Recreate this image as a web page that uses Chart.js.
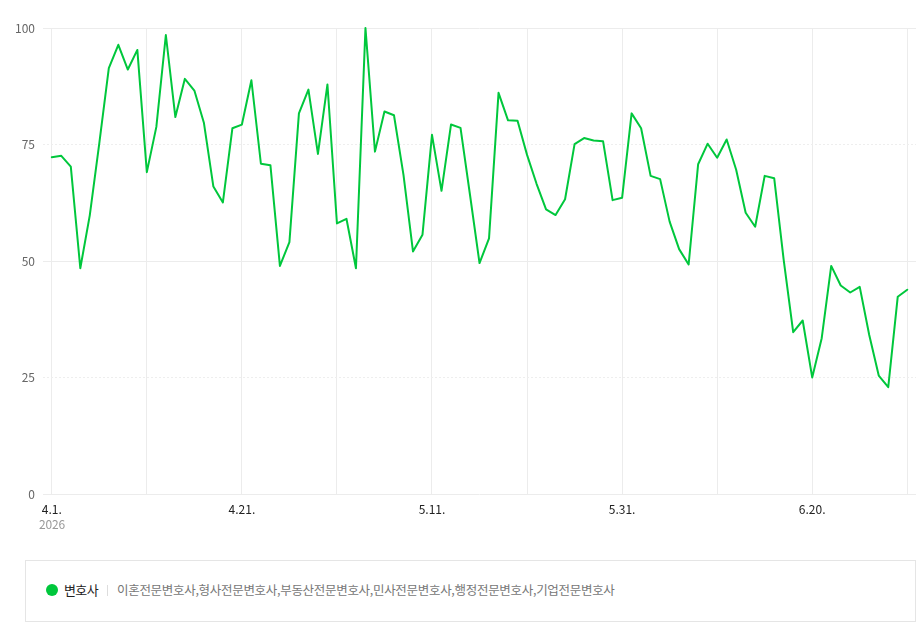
<!DOCTYPE html>
<html lang="ko">
<head>
<meta charset="utf-8">
<script src="https://cdn.jsdelivr.net/npm/chart.js@4"></script>
<style>
html,body{margin:0;padding:0;background:#fff;width:922px;height:629px;overflow:hidden;font-family:"Noto Sans CJK KR","Noto Sans",sans-serif}
#wrap{position:absolute;left:0;top:0;width:922px;height:545px}
canvas{display:block}
#year{position:absolute;left:39px;top:516px;font-size:12px;line-height:16px;color:#999;letter-spacing:-.2px}
#legend{position:absolute;left:25px;top:560px;width:889px;height:60px;border:1px solid #e5e5e5;box-sizing:content-box}
#dot{position:absolute;left:20px;top:23px;width:12px;height:12px;border-radius:50%;background:#00c73c}
#name{position:absolute;left:38px;top:20px;font-size:13px;line-height:18px;color:#222;letter-spacing:-.6px;white-space:nowrap}
#sep{position:absolute;left:81px;top:24px;width:1px;height:11px;background:#ddd}
#keys{position:absolute;left:91px;top:20px;font-size:12.5px;line-height:18px;color:#777;letter-spacing:-.3px;white-space:nowrap}
</style>
</head>
<body>
<div id="wrap"><canvas id="c" width="922" height="545"></canvas></div>
<div id="year"></div>
<div id="legend"><span id="dot"></span><span id="name"></span><span id="sep"></span><span id="keys"></span></div>
<script>
const values = [72.3,72.6,70.3,48.5,59.9,75.3,91.4,96.4,91.1,95.3,
69.1,78.8,98.5,80.9,89.1,86.6,79.7,66.0,62.6,78.5,
79.3,88.8,70.9,70.6,49.0,54.1,81.7,86.8,73.0,87.9,
58.1,59.1,48.5,100,73.5,82.1,81.3,68.5,52.1,55.7,
77.1,65.1,79.3,78.6,64.2,49.6,54.9,86.1,80.2,80.1,
72.8,66.6,61.1,59.9,63.3,75.1,76.4,75.9,75.7,63.1,
63.6,81.7,78.5,68.3,67.6,58.5,52.6,49.3,70.8,75.2,
72.2,76.1,69.6,60.4,57.4,68.3,67.8,50.3,34.8,37.3,
25.1,33.5,49.0,44.8,43.3,44.5,34.2,25.5,23.0,42.4,43.9];
const dayIndex = values.map((v, i) => i);
const gridDays = [0,10,20,30,40,50,60,70,80,90];
const xTickLabels = ['4.1.','','4.21.','','5.11.','','5.31.','','6.20.',''];
const yTicks = [0,25,50,75,100];
const dottedY = [25,75];
const yearLabel = '2026';
const seriesName = '변호사';
const keywords = '이혼전문변호사,형사전문변호사,부동산전문변호사,민사전문변호사,행정전문변호사,기업전문변호사';

document.getElementById('year').textContent = yearLabel;
document.getElementById('name').textContent = seriesName;
document.getElementById('keys').textContent = keywords;

const FONT = '"Noto Sans CJK KR","Noto Sans",sans-serif';
new Chart(document.getElementById('c'), {
  type: 'line',
  data: { datasets: [{
    label: seriesName,
    data: values.map((v, i) => ({ x: dayIndex[i], y: v })),
    borderColor: '#00c73c',
    borderWidth: 2,
    borderJoinStyle: 'round',
    borderCapStyle: 'round',
    tension: 0,
    pointRadius: 0,
    fill: false,
    clip: false
  }]},
  options: {
    responsive: false,
    animation: false,
    devicePixelRatio: 1,
    layout: { padding: { top: 28, right: 6, left: 0, bottom: 0 } },
    plugins: { legend: { display: false }, tooltip: { enabled: false } },
    scales: {
      x: {
        type: 'linear',
        min: -0.925,
        max: 90.92,
        afterBuildTicks: s => { s.ticks = gridDays.map(value => ({ value })); },
        afterFit: s => { s.height = 50.5; },
        grid: { color: '#ececec', lineWidth: 1, drawTicks: false },
        border: { display: false },
        ticks: {
          autoSkip: false, maxRotation: 0, padding: 8, color: '#222',
          font: { family: FONT, size: 12 },
          callback: v => xTickLabels[gridDays.indexOf(v)]
        }
      },
      y: {
        min: 0, max: 100,
        afterBuildTicks: s => { s.ticks = yTicks.map(value => ({ value })); },
        afterFit: s => { s.width = 43; },
        grid: { color: c => dottedY.includes(c.tick.value) ? '#eeeeee' : '#ececec', lineWidth: 1, drawTicks: false },
        border: { display: false, dash: c => dottedY.includes(c.tick.value) ? [2, 2] : [] },
        ticks: {
          padding: 8, color: '#666',
          font: { family: FONT, size: 12 },
          callback: v => String(v)
        }
      }
    }
  }
});
</script>
</body>
</html>
